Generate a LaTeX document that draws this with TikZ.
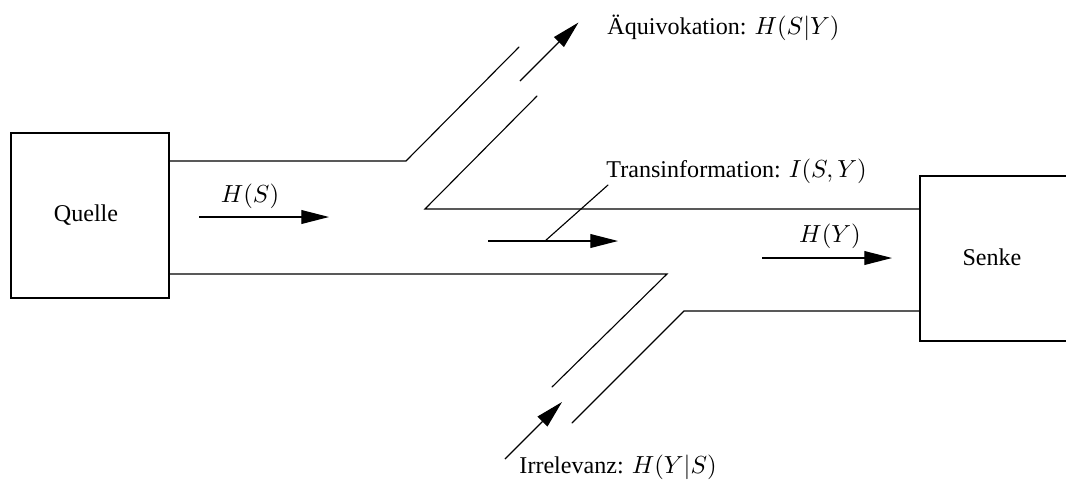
\documentclass[tikz,border=0pt]{standalone}
\usepackage[no-math]{fontspec}
\setmainfont{Liberation Serif}
\usetikzlibrary{arrows.meta}
\tikzset{
  line/.style={line width=0.45pt, line cap=round, line join=miter},
  flow/.style={line width=0.45pt, -{Triangle[length=11.2pt,width=5.6pt]}},
  lbl/.style={inner sep=0pt, font=\fontsize{9.75}{12}\selectfont},
  boxn/.style={draw, line width=0.45pt, inner sep=0pt, font=\fontsize{9.75}{12}\selectfont}
}
\begin{document}
\begin{tikzpicture}[x=0.405pt, y=-0.405pt]
\clip (0,0) rectangle (1066,481);
% boxes
\node[boxn, minimum width=158*0.405pt, minimum height=165*0.405pt] (quelle) at (90,215.5) {};
\node[lbl] (qtext) at (86,215) {Quelle};
\node[lbl] (senke) at (992,257) {Senke};
\coordinate (sTL) at (920,176);
\coordinate (sBL) at (920,341);
\draw[line] (1080,176) -- (sTL) -- (sBL) -- (1080,341);
% channel coordinates
\coordinate (qUp) at (169,161);
\coordinate (kUp) at (406,161);
\coordinate (eUp) at (519,47);
\coordinate (qLo) at (169,274);
\coordinate (kLo) at (667,274);
\coordinate (eLo) at (552,387);
\coordinate (mTop) at (537,96);
\coordinate (mK) at (425,209);
\coordinate (sUp) at (920,209);
\coordinate (sLo) at (920,311);
\coordinate (kS) at (684,311);
\coordinate (eS) at (572,423);
\draw[line] (qUp) -- (kUp) -- (eUp);
\draw[line] (qLo) -- (kLo) -- (eLo);
\draw[line] (mTop) -- (mK) -- (sUp);
\draw[line] (sLo) -- (kS) -- (eS);
% flow arrows
\coordinate (a1s) at (199,217); \coordinate (a1e) at (329,217);
\coordinate (a2s) at (488,241); \coordinate (a2e) at (618,241);
\coordinate (a3s) at (762,258); \coordinate (a3e) at (892,258);
\coordinate (a4s) at (520,81);  \coordinate (a4e) at (578.5,22.5);
\coordinate (a5s) at (505,459); \coordinate (a5e) at (562,402);
\draw[flow] (a1s) -- (a1e);
\draw[flow] (a2s) -- (a2e);
\draw[flow] (a3s) -- (a3e);
\draw[flow] (a4s) -- (a4e);
\draw[flow] (a5s) -- (a5e);
% labels
\node[lbl, anchor=base] (hs) at (250,202) {$H(S)$};
\node[lbl, anchor=base] (hy) at (830,242) {$H(Y)$};
\node[lbl, anchor=base west] (aeq) at (607,34) {Äquivokation: $H(S|Y)$};
\node[lbl, anchor=base west] (trans) at (606,177) {Transinformation: $I(S,Y)$};
\node[lbl, anchor=base west] (irr) at (519,473) {Irrelevanz: $H(Y|S)$};
\coordinate (pS) at (545,241);
\coordinate (pE) at (608,185);
\draw[line] (pS) -- (pE);
\end{tikzpicture}
\end{document}
